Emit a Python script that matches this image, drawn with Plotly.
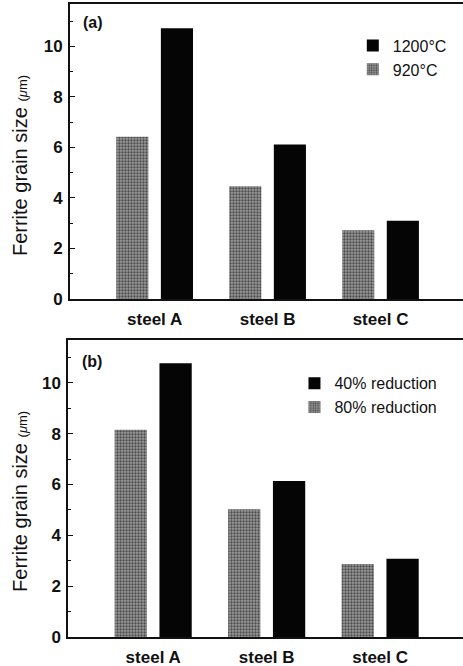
import plotly.graph_objects as go

categories = ["steel A", "steel B", "steel C"]
a_920 = [6.42, 4.47, 2.72]
a_1200 = [10.72, 6.12, 3.10]
b_80 = [8.15, 5.02, 2.87]
b_40 = [10.77, 6.14, 3.08]

GRAY = dict(color="#8e8e8e",
            pattern=dict(shape=".", fgcolor="#4a4a4a", bgcolor="#9c9c9c",
                         size=3, solidity=0.45, fillmode="replace"),
            line=dict(width=0))
BLACK = dict(color="#050505", line=dict(width=0))

fig = go.Figure()
fig.add_trace(go.Bar(x=categories, y=a_920, name="920°C", marker=GRAY,
                     xaxis="x", yaxis="y", legend="legend"))
fig.add_trace(go.Bar(x=categories, y=a_1200, name="1200°C", marker=BLACK,
                     xaxis="x", yaxis="y", legend="legend"))
fig.add_trace(go.Bar(x=categories, y=b_80, name="80% reduction", marker=GRAY,
                     xaxis="x2", yaxis="y2", legend="legend2"))
fig.add_trace(go.Bar(x=categories, y=b_40, name="40% reduction", marker=BLACK,
                     xaxis="x2", yaxis="y2", legend="legend2"))

FONT = "Liberation Sans, Arial, sans-serif"
xcommon = dict(range=[-0.75, 2.73], showline=True, linecolor="#111", linewidth=1.5,
               mirror=True, ticks="", showgrid=False, zeroline=False, automargin=False,
               ticklabelstandoff=4,
               tickfont=dict(family=FONT, size=17, color="#111", weight="bold"))
ycommon = dict(range=[0, 11.68], showline=True, linecolor="#111", linewidth=1.5,
               ticks="inside", ticklen=5, tickcolor="#111", dtick=2, tick0=0,
               showgrid=False, zeroline=False, automargin=False, ticklabelstandoff=2,
               minor=dict(ticks="inside", ticklen=3, dtick=1, tick0=0, tickcolor="#111"),
               tickfont=dict(family=FONT, size=17, color="#111", weight="bold"))

TITLE = "Ferrite grain size <span style='font-size:13px'>(<i>μ</i>m)</span>"
TFONT = dict(family=FONT, size=20, color="#111")

fig.update_layout(
    width=463, height=666,
    margin=dict(l=0, r=0, t=0, b=0, autoexpand=False),
    paper_bgcolor="white", plot_bgcolor="white",
    barmode="group", bargap=0.21, bargroupgap=0.28,
    xaxis=dict(domain=[0.151, 1.0], anchor="y", **xcommon),
    yaxis=dict(domain=[0.551, 0.994], anchor="x", **ycommon),
    xaxis2=dict(domain=[0.147, 1.0], anchor="y2", **xcommon),
    yaxis2=dict(domain=[0.0435, 0.4895], anchor="x2", **ycommon),
    legend=dict(x=0.762, y=0.957, xanchor="left", yanchor="top", traceorder="reversed",
                bgcolor="rgba(0,0,0,0)", font=dict(family=FONT, size=16, color="#111"),
                tracegroupgap=0),
    legend2=dict(x=0.636, y=0.45, xanchor="left", yanchor="top", traceorder="reversed",
                 bgcolor="rgba(0,0,0,0)", font=dict(family=FONT, size=16, color="#111"),
                 tracegroupgap=0),
    annotations=[
        dict(text="(a)", xref="paper", yref="paper", x=0.175, y=0.966, showarrow=False,
             xanchor="left", yanchor="middle",
             font=dict(family=FONT, size=16, color="#111", weight="bold")),
        dict(text="(b)", xref="paper", yref="paper", x=0.172, y=0.457, showarrow=False,
             xanchor="left", yanchor="middle",
             font=dict(family=FONT, size=16, color="#111", weight="bold")),
        dict(text=TITLE, xref="paper", yref="paper", x=0.043, y=0.752, showarrow=False,
             textangle=-90, xanchor="center", yanchor="middle", font=TFONT),
        dict(text=TITLE, xref="paper", yref="paper", x=0.043, y=0.2477, showarrow=False,
             textangle=-90, xanchor="center", yanchor="middle", font=TFONT),
    ],
)

fig.write_html("out.html", config={"displayModeBar": False},
               post_script="document.body.style.margin='0';")
